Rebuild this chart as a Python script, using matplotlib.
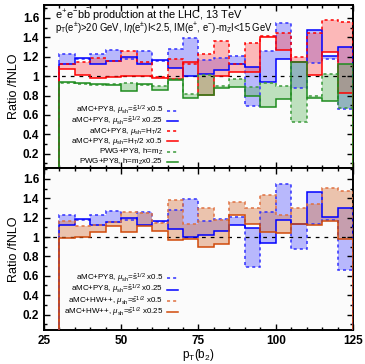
import numpy as np
import matplotlib
matplotlib.use("Agg")
import matplotlib.pyplot as plt
from matplotlib.ticker import MultipleLocator, FuncFormatter

plt.rcParams['font.family'] = ['Liberation Sans', 'DejaVu Sans']
plt.rcParams['mathtext.fontset'] = 'custom'
plt.rcParams['mathtext.rm'] = 'Liberation Sans'
plt.rcParams['mathtext.it'] = 'Liberation Sans:italic'
plt.rcParams['mathtext.bf'] = 'Liberation Sans:bold'

# bin edges of pT(b2)
edges = np.arange(30, 126, 5)

# aMC+PY8, mu_sh = sqrt(s) x0.5 (dashed) and x0.25 (solid)
py8_s05 = [1.23, 1.18, 1.23, 1.27, 1.18, 1.26, 1.16, 1.28, 1.39, 1.17,
           1.19, 1.21, 0.69, 1.26, 1.55, 0.88, 1.13, 1.18, 0.66]
py8_s025 = [1.12, 1.19, 1.12, 1.16, 1.20, 1.12, 1.17, 1.08, 1.00, 1.02,
            1.06, 1.12, 1.09, 0.935, 1.175, 1.14, 1.47, 1.21, 1.30]
# aMC+PY8, mu_sh = HT/2 (dashed) and HT/2 x0.5 (solid)
py8_ht = [1.12, 1.15, 1.19, 1.16, 1.26, 1.15, 0.99, 1.18, 1.12, 1.23,
          1.36, 1.12, 1.34, 1.41, 1.44, 1.20, 1.44, 1.58, 1.56]
py8_ht05 = [1.07, 1.01, 0.98, 0.99, 1.00, 1.00, 0.98, 0.97, 1.14, 0.81,
            1.00, 1.04, 1.045, 1.40, 1.27, 1.14, 1.01, 1.25, 0.83]
# PWG+PY8, h = mZ (dashed) and mZ x0.25 (solid)
pwg_mz = [0.925, 0.92, 0.91, 0.92, 0.925, 0.91, 0.90, 0.97, 0.82, 1.01,
          0.90, 0.97, 0.89, 0.93, 0.90, 0.53, 0.79, 1.02, 0.67]
pwg_mz025 = [0.935, 0.93, 0.92, 0.91, 0.85, 0.915, 0.86, 0.96, 0.77, 0.81,
             0.88, 0.89, 0.80, 0.68, 0.76, 1.14, 0.77, 0.74, 1.12]
# aMC+HW++, mu_sh = sqrt(s) x0.5 (dashed) and x0.25 (solid)
hw_s05 = [1.17, 1.11, 1.12, 1.16, 1.26, 1.25, 1.15, 1.38, 1.13, 1.30,
          1.18, 1.36, 1.30, 1.43, 1.23, 1.30, 1.34, 1.51, 1.48]
hw_s025 = [0.99, 1.00, 1.05, 1.11, 1.05, 1.11, 1.065, 0.97, 0.98, 0.90,
           0.93, 1.23, 1.14, 1.055, 1.04, 1.13, 1.12, 1.17, 0.985]

top_labels = [r'aMC+PY8, $\mu_{\rm sh}$=$\hat{\rm s}^{1/2}$ x0.5',
              r'aMC+PY8, $\mu_{\rm sh}$=$\hat{\rm s}^{1/2}$ x0.25',
              r'aMC+PY8, $\mu_{\rm sh}$=H$_{\rm T}$/2',
              r'aMC+PY8, $\mu_{\rm sh}$=H$_{\rm T}$/2 x0.5',
              r'PWG+PY8, h=m$_{\rm Z}$',
              r'PWG+PY8, h=m$_{\rm Z}$x0.25']
bot_labels = [r'aMC+PY8, $\mu_{\rm sh}$=$\hat{\rm s}^{1/2}$ x0.5',
              r'aMC+PY8, $\mu_{\rm sh}$=$\hat{\rm s}^{1/2}$ x0.25',
              r'aMC+HW++, $\mu_{\rm sh}$=$\hat{\rm s}^{1/2}$ x0.5',
              r'aMC+HW++, $\mu_{\rm sh}$=$\hat{\rm s}^{1/2}$ x0.25']

BLUE, RED, GREEN, ORANGE = '#0000ff', '#ff0000', '#1e8c1e', '#d04a0a'
BLUE_D, GREEN_D, ORANGE_D = '#3030ff', '#3a9a3a', '#e07040'
DASH = (0, (2, 2))
LW = 1.1


def band(ax, dashed, solid, fill, alpha):
    d = np.r_[dashed, dashed[-1]]
    s = np.r_[solid, solid[-1]]
    ax.fill_between(edges, d, s, step='post', color=fill, alpha=alpha,
                    lw=0, zorder=1)


def lines(ax, dashed, solid, color, dcolor):
    ax.stairs(dashed, edges, baseline=0, color=dcolor, ls=DASH,
              lw=LW, zorder=3)
    ax.stairs(solid, edges, baseline=0, color=color, lw=LW, zorder=3)


def style(ax, ylim):
    ax.set_facecolor('#fbfbfb')
    ax.set_xlim(25, 125)
    ax.set_ylim(*ylim)
    ax.xaxis.set_major_locator(MultipleLocator(25))
    ax.xaxis.set_minor_locator(MultipleLocator(5))
    ax.set_yticks([0.2, 0.4, 0.6, 0.8, 1.0, 1.2, 1.4, 1.6])
    ax.yaxis.set_minor_locator(MultipleLocator(0.1))
    ax.yaxis.set_major_formatter(FuncFormatter(lambda v, p: f'{v:g}'))
    ax.tick_params(which='both', direction='in', top=True, right=True,
                   labelsize=8.5, width=1.0)
    ax.tick_params(which='major', length=4.5)
    ax.tick_params(which='minor', length=2.5)
    for sp in ax.spines.values():
        sp.set_linewidth(1.4)
    ax.axhline(1.0, color='black', ls=(0, (3, 4)), lw=0.9, zorder=2)
    ax.set_ylabel('Ratio /fNLO', fontsize=9, labelpad=2)


def key(ax, labels, styles, ys):
    for lab, (c, ls), y in zip(labels, styles, ys):
        ax.text(0.385, y, lab, transform=ax.transAxes, ha='right',
                va='center', fontsize=5.8)
        ax.plot([0.398, 0.435], [y, y], transform=ax.transAxes, color=c,
                ls=ls, lw=LW, clip_on=False, zorder=4)


fig = plt.figure(figsize=(3.65, 3.64), dpi=100)
ax1 = fig.add_axes([0.1205, 0.5376, 0.8466, 0.4494])
ax2 = fig.add_axes([0.1205, 0.0934, 0.8466, 0.4442])

# top panel
band(ax1, py8_s05, py8_s025, '#5555ff', 0.4)
band(ax1, py8_ht, py8_ht05, '#ff5555', 0.4)
band(ax1, pwg_mz, pwg_mz025, '#4caf4c', 0.35)
lines(ax1, py8_s05, py8_s025, BLUE, BLUE_D)
lines(ax1, py8_ht, py8_ht05, RED, RED)
lines(ax1, pwg_mz, pwg_mz025, GREEN, GREEN_D)
style(ax1, (0.05, 1.735))
ax1.tick_params(labelbottom=False)
for lab in ax1.get_yticklabels():
    lab.set_fontweight('bold')
ax1.text(0.035, 0.936, r'e$^{+}$e$^{-}$b$\bar{\rm b}$ production at the LHC, 13 TeV',
         transform=ax1.transAxes, fontsize=7.9, va='center')
ax1.text(0.035, 0.855,
         r'p$_{\rm T}$(e$^{\pm}$)>20 GeV, I$\eta$(e$^{\pm}$)I<2.5, IM(e$^{+}$, e$^{-}$)-m$_{\rm Z}$I<15 GeV',
         transform=ax1.transAxes, fontsize=6.85, va='center')
key(ax1, top_labels,
    [(BLUE_D, DASH), (BLUE, '-'), (RED, DASH), (RED, '-'),
     (GREEN_D, DASH), (GREEN, '-')],
    [0.352, 0.290, 0.228, 0.166, 0.100, 0.038])

# bottom panel
band(ax2, py8_s05, py8_s025, '#5555ff', 0.4)
band(ax2, hw_s05, hw_s025, '#d9804f', 0.45)
lines(ax2, py8_s05, py8_s025, BLUE, BLUE_D)
lines(ax2, hw_s05, hw_s025, ORANGE, ORANGE_D)
style(ax2, (0.04, 1.71))
for lab in ax2.get_yticklabels() + ax2.get_xticklabels():
    lab.set_fontweight('bold')
ax2.set_xlabel(r'p$_{\rm T}$(b$_{2}$)', fontsize=8.5, labelpad=0)
key(ax2, bot_labels,
    [(BLUE_D, DASH), (BLUE, '-'), (ORANGE_D, DASH), (ORANGE, '-')],
    [0.322, 0.250, 0.179, 0.111])

fig.savefig('out.png', dpi=100, facecolor='white')
